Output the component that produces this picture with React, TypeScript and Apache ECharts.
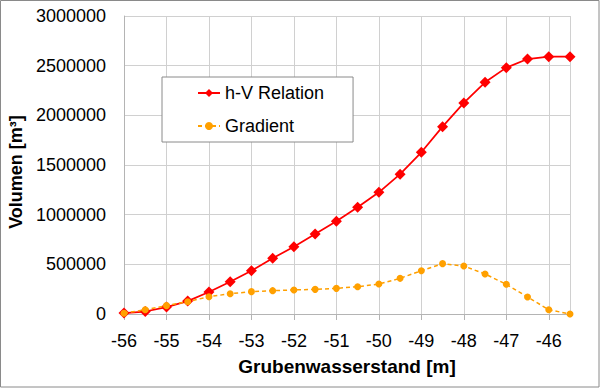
import React, { useEffect, useRef } from "react";
import * as echarts from "echarts";

const levels = [
  -56, -55.5, -55, -54.5, -54, -53.5, -53, -52.5, -52, -51.5, -51, -50.5,
  -50, -49.5, -49, -48.5, -48, -47.5, -47, -46.5, -46, -45.5,
];
const hvRelation = [
  10000, 25000, 70000, 130000, 221000, 325000, 436000, 561000, 678000, 805000,
  933000, 1074000, 1225000, 1408000, 1628000, 1886000, 2125000, 2333000,
  2480000, 2567000, 2590000, 2590000,
];
const gradient = [
  8000, 43000, 84000, 124000, 174000, 204000, 225000, 235000, 242000, 248000,
  258000, 275000, 302000, 359000, 436000, 507000, 483000, 403000, 299000,
  171000, 43000, 0,
];

export default function App() {
  const ref = useRef<HTMLDivElement>(null);
  useEffect(() => {
    document.body.style.margin = "0";
    const chart = echarts.init(ref.current!, null, { renderer: "svg" });
    const font = "'Liberation Sans', Arial, sans-serif";
    chart.setOption({
      animation: false,
      backgroundColor: "#ffffff",
      textStyle: { fontFamily: font },
      graphic: [
        {
          type: "rect",
          shape: { x: 0.5, y: 0.5, width: 598.5, height: 386.5 },
          style: { fill: "none", stroke: "#8a8a8a", lineWidth: 1 },
          silent: true,
          z: 100,
        },
      ],
      grid: {
        left: 124,
        right: 30,
        top: 16,
        bottom: 74,
        containLabel: false,
        outerBoundsMode: "none",
      },
      legend: {
        orient: "vertical",
        left: 162,
        top: 77,
        padding: [7, 29, 7, 35],
        itemGap: 15,
        itemWidth: 22,
        itemHeight: 10,
        backgroundColor: "#ffffff",
        borderColor: "#8a8a8a",
        borderWidth: 1,
        textStyle: { fontSize: 18, color: "#000", fontFamily: font },
        data: ["h-V Relation", "Gradient"],
      },
      xAxis: {
        type: "value",
        min: -56,
        max: -45.5,
        interval: 1,
        name: "Grubenwasserstand [m]",
        nameLocation: "middle",
        nameGap: 43,
        nameTextStyle: { fontSize: 19, fontWeight: "bold", color: "#000", fontFamily: font },
        axisLine: { show: true, lineStyle: { color: "#b4b4b4", width: 1 } },
        axisTick: { show: true, length: 6, lineStyle: { color: "#b4b4b4" } },
        axisLabel: {
          fontSize: 18,
          color: "#000",
          margin: 18,
          showMaxLabel: false,
          fontFamily: font,
        },
        splitLine: { show: true, lineStyle: { color: "#d0d0d0", width: 1 } },
      },
      yAxis: {
        type: "value",
        min: 0,
        max: 3000000,
        interval: 500000,
        name: "Volumen [m³]",
        nameLocation: "middle",
        nameGap: 77,
        nameTextStyle: {
          fontSize: 18,
          fontWeight: "bold",
          color: "#000",
          fontFamily: font,
          padding: [0, 14, 0, 0],
        },
        axisLine: { show: true, lineStyle: { color: "#b4b4b4", width: 1 } },
        axisTick: { show: false },
        axisLabel: {
          fontSize: 18,
          color: "#000",
          margin: 18,
          fontFamily: font,
          formatter: (v: number) => String(v),
        },
        splitLine: { show: true, lineStyle: { color: "#d0d0d0", width: 1 } },
      },
      series: [
        {
          name: "h-V Relation",
          type: "line",
          data: levels.map((x, i) => [x, hvRelation[i]]),
          symbol: "diamond",
          symbolSize: 11,
          itemStyle: { color: "#ff0000" },
          lineStyle: { color: "#ff0000", width: 1.75 },
          z: 3,
        },
        {
          name: "Gradient",
          type: "line",
          data: levels.map((x, i) => [x, gradient[i]]),
          symbol: "circle",
          symbolSize: 7,
          itemStyle: { color: "#ffa000" },
          lineStyle: { color: "#ffa000", width: 1.5, type: [4, 3] },
          z: 4,
        },
      ],
    });
    return () => chart.dispose();
  }, []);
  return <div ref={ref} style={{ width: 600, height: 388 }} />;
}
